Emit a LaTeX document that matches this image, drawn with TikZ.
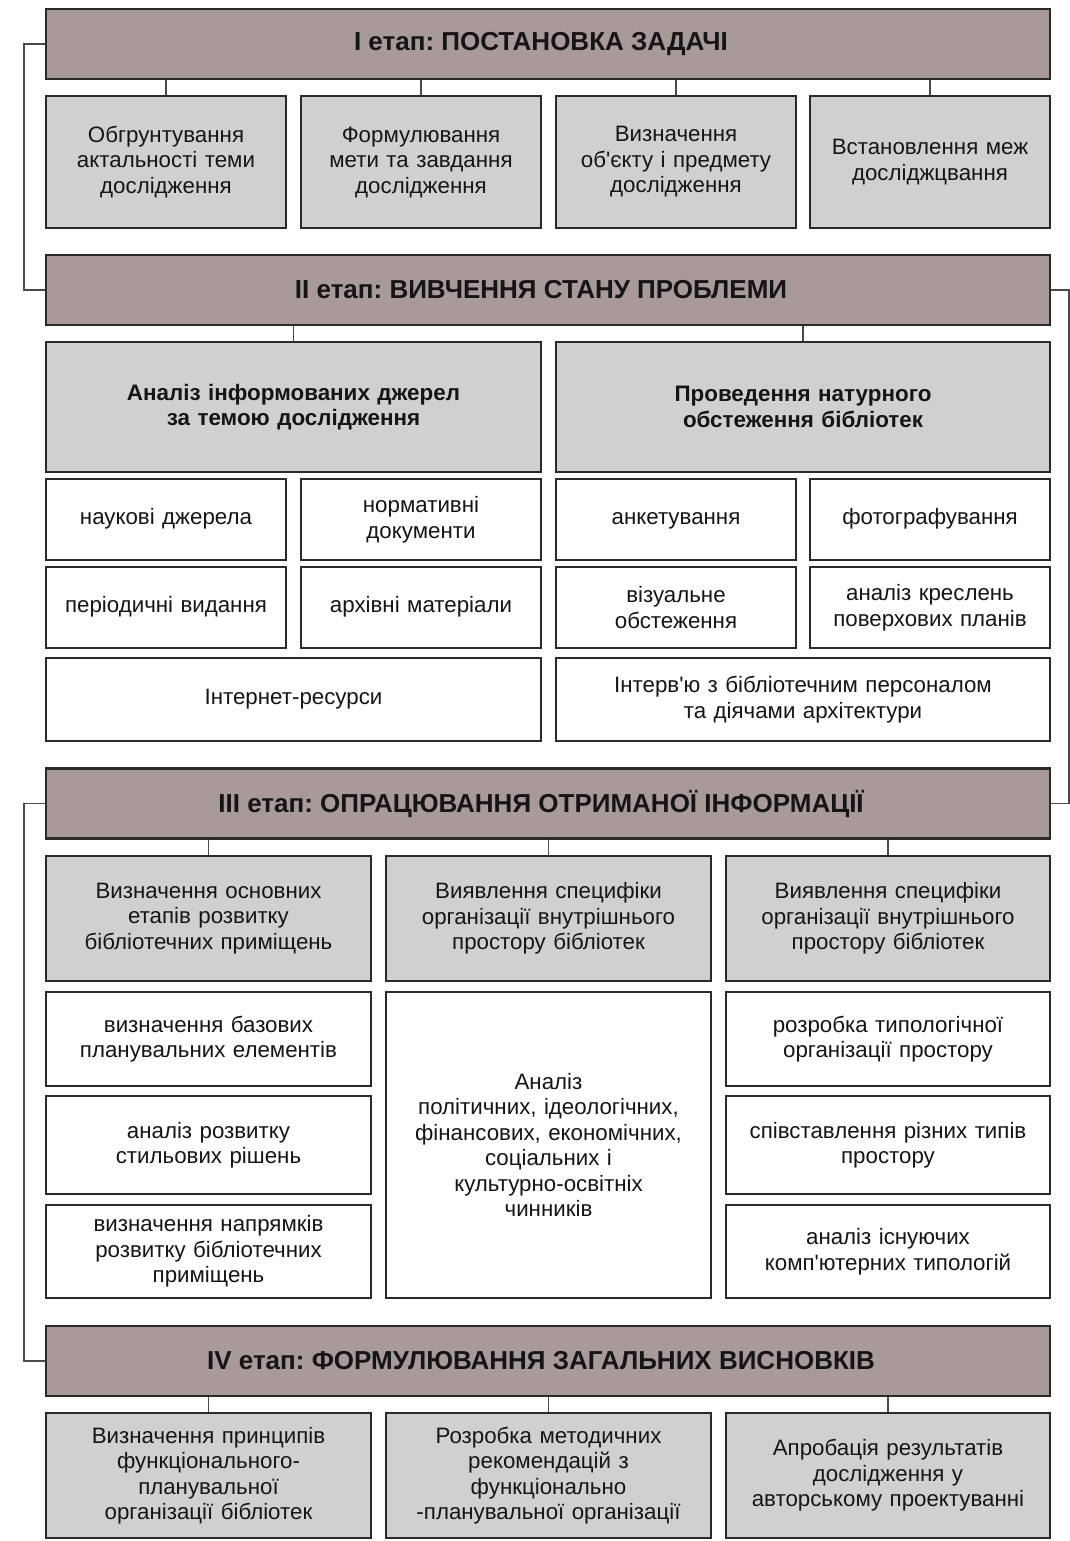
\documentclass[tikz,border=0pt]{standalone}
\usepackage{fontspec}
\setmainfont{Liberation Sans}[Ligatures=TeXOff]
\frenchspacing
\definecolor{hdrC}{HTML}{A89A98}
\definecolor{grayC}{HTML}{D0D0D0}
\definecolor{edgeC}{HTML}{2A2A2A}
\definecolor{lnkC}{HTML}{4A4A4A}
\definecolor{txtC}{HTML}{151515}
\tikzset{
  basebox/.style={draw=edgeC, line width=2.4pt, inner sep=0pt, align=center, text=txtC},
  hdr/.style={basebox, fill=hdrC, minimum width=1004pt, minimum height=70pt, font=\bfseries\fontsize{26}{30}\selectfont},
  gbox/.style={basebox, fill=grayC, font=\fontsize{22.3}{25.5}\selectfont},
  gboxb/.style={basebox, fill=grayC, font=\bfseries\fontsize{22.4}{25.5}\selectfont},
  wbox/.style={basebox, fill=white, font=\fontsize{22.3}{25.5}\selectfont},
  lnk/.style={draw=lnkC, line width=1.8pt}
}
\newcommand{\hdrtxt}[1]{#1\hspace*{14pt}}
\begin{document}
\begin{tikzpicture}[x=1pt,y=-1pt]
\useasboundingbox (0,0) rectangle (1070,1541);
% Stage I
\node[hdr] (h1) at (548,44) {\hdrtxt{I етап: ПОСТАНОВКА ЗАДАЧІ}};
\node[gbox, minimum width=240pt, minimum height=132pt, text width=230pt] (a1) at (166,162) {Обгрунтування\\актальності теми\\дослідження};
\node[gbox, minimum width=240pt, minimum height=132pt, text width=230pt] (a2) at (421,162) {Формулювання\\мети та завдання\\дослідження};
\node[gbox, minimum width=240pt, minimum height=132pt, text width=230pt] (a3) at (676,162) {Визначення\\об'єкту і предмету\\дослідження};
\node[gbox, minimum width=240pt, minimum height=132pt, text width=230pt] (a4) at (930,162) {Встановлення меж\\досліджцвання};
% Stage II
\node[hdr] (h2) at (548,290) {\hdrtxt{II етап: ВИВЧЕННЯ СТАНУ ПРОБЛЕМИ}};
\node[gboxb, minimum width=495pt, minimum height=130pt, text width=470pt] (b1) at (293.5,407) {Аналіз інформованих джерел\\за темою дослідження};
\node[gboxb, minimum width=494pt, minimum height=130pt, text width=470pt] (b2) at (803,407) {Проведення натурного\\обстеження бібліотек};
\node[wbox, minimum width=240pt, minimum height=81pt, text width=230pt] (c1) at (166,519.5) {наукові джерела\strut};
\node[wbox, minimum width=240pt, minimum height=81pt, text width=230pt] (c2) at (421,519.5) {нормативні\\документи};
\node[wbox, minimum width=240pt, minimum height=81pt, text width=230pt] (c3) at (676,519.5) {\strut анкетування\strut};
\node[wbox, minimum width=240pt, minimum height=81pt, text width=230pt] (c4) at (930,519.5) {фотографування\strut};
\node[wbox, minimum width=240pt, minimum height=81pt, text width=230pt] (d1) at (166,607.5) {періодичні видання\strut};
\node[wbox, minimum width=240pt, minimum height=81pt, text width=230pt] (d2) at (421,607.5) {архівні матеріали\strut};
\node[wbox, minimum width=240pt, minimum height=81pt, text width=230pt] (d3) at (676,607.5) {візуальне\\обстеження};
\node[wbox, minimum width=240pt, minimum height=81pt, text width=230pt] (d4) at (930,607.5) {аналіз креслень\\поверхових планів};
\node[wbox, minimum width=495pt, minimum height=83pt, text width=470pt] (e1) at (293.5,699.5) {Інтернет-ресурси\strut};
\node[wbox, minimum width=494pt, minimum height=83pt, text width=470pt] (e2) at (803,699.5) {Інтерв'ю з бібліотечним персоналом\\та діячами архітектури};
% Stage III
\node[hdr] (h3) at (548,803.5) {\hdrtxt{III етап: ОПРАЦЮВАННЯ ОТРИМАНОЇ ІНФОРМАЦІЇ}};
\node[gbox, minimum width=325pt, minimum height=125pt, text width=315pt] (f1) at (208.5,918.5) {Визначення основних\\етапів розвитку\\бібліотечних приміщень};
\node[gbox, minimum width=325pt, minimum height=125pt, text width=315pt] (f2) at (548.5,918.5) {Виявлення специфіки\\організації внутрішнього\\простору бібліотек};
\node[gbox, minimum width=324pt, minimum height=125pt, text width=315pt] (f3) at (888,918.5) {Виявлення специфіки\\організації внутрішнього\\простору бібліотек};
\node[wbox, minimum width=325pt, minimum height=94pt, text width=315pt] (g1) at (208.5,1039) {визначення базових\\планувальних елементів};
\node[wbox, minimum width=325pt, minimum height=98pt, text width=315pt] (g2) at (208.5,1145) {аналіз розвитку\\стильових рішень};
\node[wbox, minimum width=325pt, minimum height=93pt, text width=315pt] (g3) at (208.5,1251.5) {визначення напрямків\\розвитку бібліотечних\\приміщень};
\node[wbox, minimum width=325pt, minimum height=306pt, text width=315pt] (gm) at (548.5,1145) {Аналіз\\політичних, ідеологічних,\\фінансових, економічних,\\соціальних і\\культурно-освітніх\\чинників};
\node[wbox, minimum width=324pt, minimum height=94pt, text width=315pt] (k1) at (888,1039) {розробка типологічної\\організації простору};
\node[wbox, minimum width=324pt, minimum height=98pt, text width=315pt] (k2) at (888,1145) {співставлення різних типів\\простору};
\node[wbox, minimum width=324pt, minimum height=93pt, text width=315pt] (k3) at (888,1251.5) {аналіз існуючих\\комп'ютерних типологій};
% Stage IV
\node[hdr] (h4) at (548,1361) {\hdrtxt{IV етап: ФОРМУЛЮВАННЯ ЗАГАЛЬНИХ ВИСНОВКІВ}};
\node[gbox, minimum width=325pt, minimum height=125pt, text width=315pt] (m1) at (208.5,1475.5) {Визначення принципів\\функціонального-\\планувальної\\організації бібліотек};
\node[gbox, minimum width=325pt, minimum height=125pt, text width=315pt] (m2) at (548.5,1475.5) {Розробка методичних\\рекомендацій з\\функціонально\\-планувальної організації};
\node[gbox, minimum width=324pt, minimum height=125pt, text width=315pt] (m3) at (888,1475.5) {Апробація результатів\\дослідження у\\авторському проектуванні};
% connectors header -> boxes
\foreach \b in {a1,a2,a3,a4} \draw[lnk] (h1.south -| \b.north) -- (\b.north);
\foreach \b in {b1,b2} \draw[lnk] (h2.south -| \b.north) -- (\b.north);
\foreach \b in {f1,f2,f3} \draw[lnk] (h3.south -| \b.north) -- (\b.north);
\foreach \b in {m1,m2,m3} \draw[lnk] (h4.south -| \b.north) -- (\b.north);
% stage links
\draw[lnk] (h1.west) -- ([xshift=-21pt]h1.west) |- (h2.west);
\draw[lnk] (h2.east) -- ([xshift=18pt]h2.east) |- (h3.east);
\draw[lnk] (h3.west) -- ([xshift=-21pt]h3.west) |- (h4.west);
\end{tikzpicture}
\end{document}
